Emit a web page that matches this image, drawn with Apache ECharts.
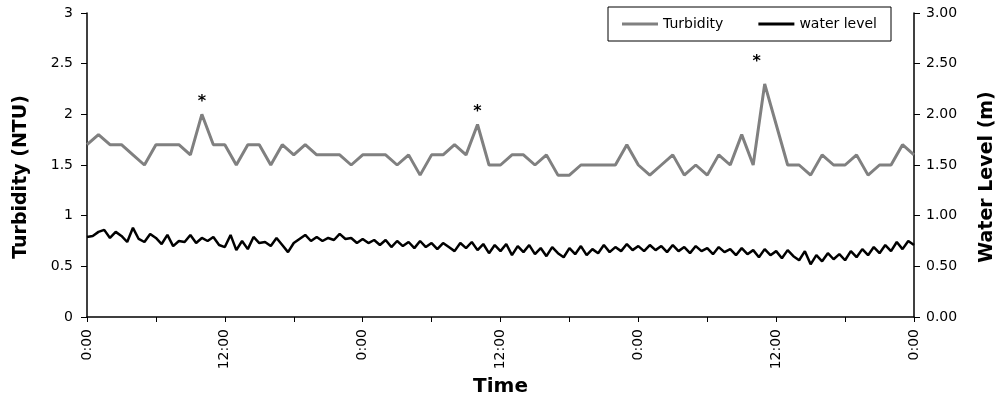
<!DOCTYPE html>
<html>
<head>
<meta charset="utf-8">
<script src="https://cdn.jsdelivr.net/npm/echarts@6/dist/echarts.min.js"></script>
<style>
  html, body { margin: 0; padding: 0; background: #fff; }
  #chart { width: 1005px; height: 406px; }
</style>
</head>
<body>
<div id="chart"></div>
<script>
// 浊度，每小时一个值（0 ~ 72 小时）
var turbidity = [
  1.7, 1.8, 1.7, 1.7, 1.6, 1.5, 1.7, 1.7, 1.7, 1.6, 2.0, 1.7,
  1.7, 1.5, 1.7, 1.7, 1.5, 1.7, 1.6, 1.7, 1.6, 1.6, 1.6, 1.5,
  1.6, 1.6, 1.6, 1.5, 1.6, 1.4, 1.6, 1.6, 1.7, 1.6, 1.9, 1.5,
  1.5, 1.6, 1.6, 1.5, 1.6, 1.4, 1.4, 1.5, 1.5, 1.5, 1.5, 1.7,
  1.5, 1.4, 1.5, 1.6, 1.4, 1.5, 1.4, 1.6, 1.5, 1.8, 1.5, 2.3,
  1.9, 1.5, 1.5, 1.4, 1.6, 1.5, 1.5, 1.6, 1.4, 1.5, 1.5, 1.7,
  1.6
];

// 水位，每半小时一个值
var waterLevel = [
  0.79, 0.80, 0.84, 0.86, 0.78, 0.84, 0.80, 0.74, 0.88, 0.77, 0.74, 0.82,
  0.78, 0.72, 0.81, 0.70, 0.75, 0.74, 0.81, 0.73, 0.78, 0.75, 0.79, 0.71,
  0.69, 0.81, 0.66, 0.75, 0.67, 0.79, 0.73, 0.74, 0.70, 0.78, 0.71, 0.64,
  0.73, 0.77, 0.81, 0.75, 0.79, 0.75, 0.78, 0.76, 0.82, 0.77, 0.78, 0.73,
  0.77, 0.73, 0.76, 0.71, 0.76, 0.69, 0.75, 0.70, 0.74, 0.68, 0.75, 0.69,
  0.73, 0.67, 0.73, 0.69, 0.65, 0.73, 0.68, 0.74, 0.66, 0.72, 0.63, 0.71,
  0.65, 0.72, 0.61, 0.70, 0.64, 0.71, 0.62, 0.68, 0.60, 0.69, 0.63, 0.59,
  0.68, 0.62, 0.70, 0.61, 0.67, 0.63, 0.71, 0.64, 0.69, 0.65, 0.72, 0.66,
  0.70, 0.65, 0.71, 0.66, 0.70, 0.64, 0.71, 0.65, 0.69, 0.63, 0.70, 0.65,
  0.68, 0.62, 0.69, 0.64, 0.67, 0.61, 0.68, 0.62, 0.66, 0.59, 0.67, 0.61,
  0.65, 0.58, 0.66, 0.60, 0.56, 0.65, 0.52, 0.61, 0.55, 0.63, 0.57, 0.62,
  0.56, 0.65, 0.59, 0.67, 0.61, 0.69, 0.63, 0.71, 0.65, 0.74, 0.67, 0.75,
  0.71
];

// 星号标注的峰值 [小时, 浊度]
var peaks = [[10, 2.0], [34, 1.9], [59, 2.3]];

var seriesNames = ['Turbidity', 'water level'];

var turbData = [];
for (var i = 0; i < turbidity.length; i++) {
  turbData.push([i, turbidity[i]]);
}
var waterData = [];
for (var j = 0; j < waterLevel.length; j++) {
  waterData.push([j * 0.5, waterLevel[j]]);
}
var peakMarks = [];
for (var k = 0; k < peaks.length; k++) {
  var mk = { coord: peaks[k] };
  // 最后一个星号在原图中偏左偏上
  if (k === peaks.length - 1) {
    mk.label = { offset: [-8, -10] };
  }
  peakMarks.push(mk);
}

var font = 'DejaVu Sans';
var myChart = echarts.init(document.getElementById('chart'));

var option = {
  animation: false,
  backgroundColor: '#fff',
  grid: { left: 87, right: 89, top: 13, bottom: 89 },
  legend: {
    data: seriesNames,
    left: 608,
    top: 7,
    padding: [10, 14, 10, 14],
    borderColor: '#000',
    borderWidth: 1,
    backgroundColor: '#fff',
    icon: 'rect',
    itemWidth: 36,
    itemHeight: 3,
    itemGap: 35,
    textStyle: { fontFamily: font, fontSize: 14, color: '#000' }
  },
  xAxis: {
    type: 'value',
    min: 0,
    max: 72,
    interval: 6,
    name: 'Time',
    nameLocation: 'middle',
    nameGap: 58,
    nameTextStyle: { fontFamily: font, fontSize: 20, fontWeight: 'bold', color: '#000' },
    axisLine: { lineStyle: { color: '#000', width: 1.5 } },
    axisTick: { length: 5, lineStyle: { color: '#000', width: 1 } },
    splitLine: { show: false },
    axisLabel: {
      rotate: 90,
      margin: 12,
      fontFamily: font,
      fontSize: 14,
      color: '#000',
      formatter: function (v) {
        return v % 12 === 0 ? (v % 24) + ':00' : '';
      }
    }
  },
  yAxis: [
    {
      type: 'value',
      min: 0,
      max: 3,
      interval: 0.5,
      name: 'Turbidity (NTU)',
      nameLocation: 'middle',
      nameRotate: 90,
      nameGap: 56,
      nameTextStyle: {
        fontFamily: font, fontSize: 19, fontWeight: 'bold', color: '#000',
        padding: [0, 24, 0, 0]
      },
      axisLine: { show: true, lineStyle: { color: '#000', width: 1.5 } },
      axisTick: { show: true, length: 6, lineStyle: { color: '#000', width: 1 } },
      splitLine: { show: false },
      axisLabel: {
        margin: 14,
        fontFamily: font,
        fontSize: 14,
        color: '#000',
        formatter: function (v) { return String(v); }
      }
    },
    {
      type: 'value',
      min: 0,
      max: 3,
      interval: 0.5,
      position: 'right',
      name: 'Water Level (m)',
      nameLocation: 'middle',
      nameRotate: 90,
      nameGap: 64,
      nameTextStyle: {
        fontFamily: font, fontSize: 19, fontWeight: 'bold', color: '#000',
        padding: [0, 24, 0, 0]
      },
      axisLine: { show: true, lineStyle: { color: '#000', width: 1.5 } },
      axisTick: { show: true, length: 6, lineStyle: { color: '#000', width: 1 } },
      splitLine: { show: false },
      axisLabel: {
        margin: 12,
        fontFamily: font,
        fontSize: 14,
        color: '#000',
        formatter: function (v) { return v.toFixed(2); }
      }
    }
  ],
  series: [
    {
      name: seriesNames[0],
      type: 'line',
      yAxisIndex: 0,
      data: turbData,
      showSymbol: false,
      color: '#808080',
      lineStyle: { color: '#808080', width: 3 },
      markPoint: {
        symbol: 'circle',
        symbolSize: 1,
        itemStyle: { color: 'rgba(0,0,0,0)' },
        label: {
          show: true,
          formatter: '*',
          position: 'top',
          distance: 4,
          fontFamily: font,
          fontSize: 16,
          fontWeight: 'bold',
          color: '#000'
        },
        data: peakMarks
      }
    },
    {
      name: seriesNames[1],
      type: 'line',
      yAxisIndex: 1,
      data: waterData,
      showSymbol: false,
      color: '#000',
      lineStyle: { color: '#000', width: 2.5 }
    }
  ]
};

myChart.setOption(option);
</script>
</body>
</html>
